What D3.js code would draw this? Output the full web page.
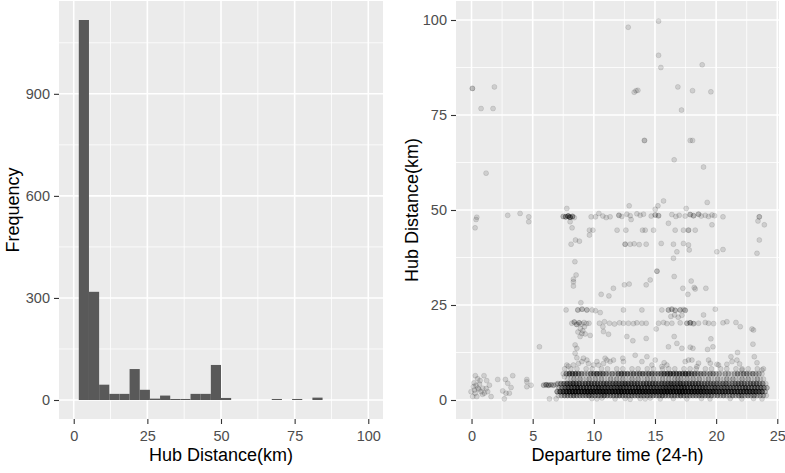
<!DOCTYPE html>
<html><head><meta charset="utf-8">
<script src="https://cdn.jsdelivr.net/npm/d3@7"></script>
<style>body{margin:0;background:#fff}svg text{font-family:Arial,"Liberation Sans",sans-serif}</style>
</head><body><svg id="c" width="785" height="473"></svg>
<script>
// ---------- Histogram data ----------
const histEdges = [1.724,5.172,8.621,12.069,15.517,18.966,22.414,25.862,29.310,32.759,36.207,39.655,43.103,46.552,50.000,53.448,56.897,60.345,63.793,67.241,70.690,74.138,77.586,81.034,84.483,87.931,91.379,94.828,98.276];
const histCounts = [1117,318,45,18,18,91,30,4,13,3,3,18,18,103,6,0,0,0,0,3,0,3,0,7,0,0,0,0];
const histXTicks = [0,25,50,75,100];
const histXMinor = [12.5,37.5,62.5,87.5];
const histYTicks = [0,300,600,900];
const histYMinor = [150,450,750,1050];

// ---------- Scatter data: [departure time, hub distance, overlapping count] ----------
const scatterPoints = [
[15.29,99.7],[12.81,98.1],[15.29,90.7],[15.48,87.5],[18.86,88.2],
[0.07,82.0,2],[1.87,82.4],[0.78,76.7],[1.76,76.7],
[13.3,81.0],[13.45,81.4],[13.6,81.5],[16.87,82.4],[18.07,81.4],[19.57,81.1],[17.17,76.3],
[14.14,68.3,2],[17.88,68.3],[18.07,68.3],[16.57,63.2],[18.97,61.3],[1.19,59.7],
[0.43,48.1],[0.37,47.5],[0.29,45.3],[2.96,48.6],[3.97,49.1],[4.68,48.2],[4.68,46.9],
[7.5,48.3,2],[7.7,48.2,3],[7.9,48.4,4],[8.05,48.1,4],[8.25,48.3,3],[8.4,48.0],
[7.79,50.4],[8.06,46.9],[8.22,45.3],
[9.78,48.2],[10.13,48.2],[10.41,49.1],[10.74,48.4],[11.01,48.0],[11.33,48.2],[12.05,48.6,2],
[9.64,44.7],[9.92,44.7],[9.64,43.4],[11.9,44.7],
[8.5,42.1],[8.82,41.8],[8.14,41.0],
[12.89,51.1],[15.7,52.4],[15.24,51.1],[15.02,50.2],[17.55,50.4],[19.27,52.0],
[12.29,48.3],[12.7,48.9],[12.97,48.5],[13.52,49.0],[13.79,48.6],[14.06,48.9],[14.69,48.4],[15.02,48.7,2],[15.29,48.5,2],[16.38,48.8],[16.71,48.3],[16.98,48.6],[17.47,48.4],[17.88,48.8,2],[18.15,48.5,2],[18.56,48.9,2],[18.78,48.4],[19.11,48.6],[19.38,48.3],[19.66,48.7],[19.87,48.5],[20.56,48.2],
[13.05,47.5],[19.66,46.1],[16.1,46.5],
[12.62,44.7],[13.98,44.7],[14.2,44.7],[14.88,44.7],[16.65,44.7],[17.33,44.7],[17.74,44.7,2],[18.29,44.7],
[12.56,41.0,2],[12.97,41.0],[13.3,41.1],[13.71,40.9],[14.28,41.0],[15.51,41.2],[16.51,41.0],[17.33,41.2],[17.74,40.8],
[16.79,39.0],[17.8,39.5],[16.51,37.3],[20.06,39.0],[20.56,39.6],
[23.53,48.2,2],[23.42,47.1],[23.94,46.1],[23.53,42.1],[23.34,38.6],
[8.45,36.4],[8.55,32.9],[8.33,31.8],[8.33,31.1],[8.33,30.0],[11.6,29.4],[10.6,27.8],[11.23,27.4],[8.94,25.6],
[15.16,33.9,2],[16.57,32.5],[14.61,31.6],[14.28,30.3],[12.5,30.3],[12.89,30.5],[17.96,31.3],[17.28,29.4],[18.21,29.6],[18.29,29.2],[17.69,27.8],[19.16,29.4],
[7.73,23.7],[8.69,23.7,2],[9.04,23.9,2],[9.43,23.7,2],[9.86,23.7],[10.13,23.5],[10.52,23.0],
[12.42,23.7],[13.93,23.7],[15.56,23.7],[16.1,23.7,2],[16.38,23.9,2],[16.65,23.6,2],[17.06,23.7,2],[17.33,23.8],[17.47,23.6,2],[19.93,23.9],
[18.97,22.4],[16.3,22.0],[16.6,22.4],[16.9,21.8],[17.2,22.3],
[8.2,20.2],[8.4,20.5,2],[8.6,19.9,2],[8.8,20.3,2],[9.0,20.0],[9.2,20.4],[9.4,20.1],[9.6,20.2],
[10.46,20.2],[10.87,20.6],[11.28,20.2],[11.69,20.0],[12.1,20.3],
[12.42,20.2],[12.83,20.2],[13.24,20.1],[13.52,20.3],[13.93,20.2],[14.28,20.2],[15.29,20.2],[15.7,20.4],[15.97,20.1],[16.38,20.2],[17.06,20.3],[17.61,20.2,2],[17.88,20.3,3],[18.15,20.1,2],[18.56,20.2],[19.11,20.4],[19.38,20.2],[19.79,20.1],[20.56,20.3],[20.88,20.6],[21.62,20.4],
[9.23,19.3],[10.74,19.3],[21.97,19.3],[22.93,18.7],[8.9,18.8],[9.1,18.2],[8.7,17.9],
[5.55,14.0],[8.47,14.5],[8.61,13.6],[8.88,16.7],[9.02,17.5],[9.29,17.4],[9.7,17.0],[8.47,12.3],[8.61,11.1],[9.02,10.1],[9.43,10.5],
[10.79,18.0],[11.2,17.3],[12.7,16.7],[13.19,15.6],[14.28,16.2],[15.1,18.7],[16.1,14.0],[16.57,16.7],[16.79,14.9],[17.2,13.6],[17.88,13.9],[18.1,13.6],
[17.74,10.5],[18.02,10.5],[19.3,13.3],[19.74,14.0],[19.57,16.1],[21.21,11.4],[21.75,12.5],[21.7,10.5],[21.92,9.5],
[23.06,18.4],[23.01,14.7],[23.34,9.8],[23.12,11.4],[13.38,11.8],[13.93,10.1],[14.34,11.4],[15.02,10.5],[15.75,9.8],[12.37,11.0],[12.42,10.1],
[7.79,9.2],[8.33,9.2],[10.25,10.1],[10.92,11.0],[11.6,10.5],[18.56,9.7],[19.38,10.5],[20.07,9.4],[20.88,9.4],[21.3,10.1],
[7.92,8.9],[8.74,9.6],[9.15,11.0],[9.56,9.6],[9.97,9.2],[10.38,9.2],[10.79,9.6],[11.07,10.5],[11.33,10.1],[14.75,9.2],[15.56,8.8],[15.97,9.2],
[18.43,8.8],[19.52,9.7],[20.2,9.2],[22.11,7.9],[23.75,7.9],[17.47,10.1],
[0.31,6.4],[1.02,6.4],[1.24,5.1],[0.70,5.1],[0.37,3.9],[0.23,2.6],[-0.04,2.2],[0.1,0.9],[0.43,0.9],[0.78,2.2],[1.05,1.8],[1.32,2.2],[1.6,0.9],[0.92,3.1],[0.52,3.1],[1.46,3.9],
[0.2,4.5],[0.5,5.6],[0.6,2.8],[0.9,1.5],[0.3,1.8],[1.2,3.0],[0.15,3.5],[0.65,4.2],
[2.14,5.4],[2.77,5.4],[2.96,4.4],[2.55,2.4],[2.82,1.8],[3.09,1.8],[2.68,0.3],[3.37,6.4],[3.23,3.3],
[4.52,5.4],[4.52,4.8],[4.87,3.9],[4.52,3.5],
[5.9,3.9,2],[6.1,4.0,3],[6.3,3.9,3],[6.5,4.0,2],[6.7,3.9,2],[6.9,4.1],
[6.37,0.3],[6.92,0.3],[7.6,6.1],
[9.84,0.4],[10.25,0.3],[10.66,0.5],[11.74,0.3],[12.56,0.4],[12.97,0.2],[13.79,0.4],[14.2,0.3],[14.61,0.5],[15.43,0.3],[16.5,0.4],[17.6,0.3],[18.8,0.4],[19.5,0.3],[21.15,0.4],[22.1,0.3],[23.06,0.4],[23.75,0.3]
];

// Dense band (0-9 km): counts of overlapping points read per cell
const bandT = [7,7.25,7.5,7.75,8,8.25,8.5,8.75,9,9.25,9.5,9.75,10,10.25,10.5,10.75,11,11.25,11.5,11.75,12,12.25,12.5,12.75,13,13.25,13.5,13.75,14,14.25,14.5,14.75,15,15.25,15.5,15.75,16,16.25,16.5,16.75,17,17.25,17.5,17.75,18,18.25,18.5,18.75,19,19.25,19.5,19.75,20,20.25,20.5,20.75,21,21.25,21.5,21.75,22,22.25,22.5,22.75,23,23.25,23.5,23.75,24];
const bandD = [8.2, 6.9, 5.5, 4.3, 3.2, 2.2, 1.2];
const bandShift = [0.12, 0, 0.12, 0.06, 0.15, 0, 0.1];
const bandCounts = [
"0010 1010 0101 0010 1001 0100 1010 0101 0010 1010 0101 0100 1010 0101 0010 1010 0101 0",
"0013 5554 3224 4544 3232 4544 3434 4344 3345 5655 5565 4433 3233 2212 2123 2332 3221 0",
"0001 1212 1121 2121 1212 1211 2121 1212 1121 2122 2121 2121 1211 2112 1211 2121 1211 0",
"2345 5655 4555 5545 5455 5565 5554 5555 5455 5655 6555 5554 4444 4344 3344 4434 4433 1",
"2345 5565 5555 5655 5555 6555 5565 5555 5556 5665 6655 5555 5445 4444 4444 4544 4443 2",
"3567 8888 7888 8888 8788 8988 8888 8888 8888 9888 9988 8888 7777 6666 6666 6666 6655 2",
"1233 3433 3343 3334 3333 4333 3333 3333 3343 3333 4333 3333 3332 3232 2323 3232 3222 1"
];
const scatXTicks = [0,5,10,15,20,25];
const scatXMinor = [2.5,7.5,12.5,17.5,22.5];
const scatYTicks = [0,25,50,75,100];
const scatYMinor = [12.5,37.5,62.5,87.5];

// ---------- Drawing ----------
const svg = d3.select('#c');
const TICK = '#333333', LAB = '#4D4D4D';

function drawPanel(x, y, xMaj, xMin, yMaj, yMin) {
  const [x0, x1] = x.range(), [yb, yt] = y.range();
  const g = svg.append('g');
  g.append('rect').attr('x', x0).attr('y', yt).attr('width', x1 - x0).attr('height', yb - yt).attr('fill', '#EBEBEB');
  const lines = (vals, w, vert) => g.selectAll(null).data(vals).enter().append('line')
    .attr('x1', d => vert ? x(d) : x0).attr('x2', d => vert ? x(d) : x1)
    .attr('y1', d => vert ? yt : y(d)).attr('y2', d => vert ? yb : y(d))
    .attr('stroke', '#fff').attr('stroke-width', w);
  lines(yMin, 0.8, false); lines(xMin, 0.8, true);
  lines(yMaj, 1.6, false); lines(xMaj, 1.6, true);
  return g;
}
function drawAxes(x, y, xMaj, yMaj) {
  const [x0] = x.range(), [yb] = y.range();
  const ax = svg.append('g').attr('transform', `translate(0,${yb})`)
    .call(d3.axisBottom(x).tickValues(xMaj).tickSize(5).tickPadding(7).tickFormat(d3.format('d')));
  const ay = svg.append('g').attr('transform', `translate(${x0},0)`)
    .call(d3.axisLeft(y).tickValues(yMaj).tickSize(5).tickPadding(4).tickFormat(d3.format('d')));
  [ax, ay].forEach(a => {
    a.select('.domain').remove();
    a.selectAll('line').attr('stroke', TICK).attr('stroke-width', 1.1);
    a.selectAll('text').attr('fill', LAB).style('font-size', '14.5px').style('font-family', 'Arial,"Liberation Sans",sans-serif');
  });
}
function title(txt, xx, yy, rot) {
  svg.append('text').attr('transform', `translate(${xx},${yy})` + (rot ? ' rotate(-90)' : ''))
    .attr('text-anchor', 'middle').attr('fill', '#000').style('font-size', '18px').text(txt);
}

// Left: histogram
const hx = d3.scaleLinear().domain([-5, 105]).range([59, 383]);
const hy = d3.scaleLinear().domain([-55.85, 1172.85]).range([419, 1]);
drawPanel(hx, hy, histXTicks, histXMinor, histYTicks, histYMinor);
const bins = histCounts.map((c, i) => ({x0: histEdges[i], x1: histEdges[i + 1], c}));
svg.append('g').selectAll('rect').data(bins.filter(b => b.c > 0)).enter().append('rect')
  .attr('x', b => hx(b.x0)).attr('width', b => hx(b.x1) - hx(b.x0))
  .attr('y', b => hy(b.c)).attr('height', b => hy(0) - hy(b.c)).attr('fill', '#595959');
drawAxes(hx, hy, histXTicks, histYTicks);
title('Hub Distance(km)', 221, 461, false);
title('Frequency', 19, 210, true);

// Right: scatter
const sx = d3.scaleLinear().domain([-1.27, 25.14]).range([456, 779]);
const sy = d3.scaleLinear().domain([-5, 105]).range([419, 1]);
drawPanel(sx, sy, scatXTicks, scatXMinor, scatYTicks, scatYMinor);
const pts = [];
scatterPoints.forEach(p => { const n = p[2] || 1; for (let k = 0; k < n; k++) pts.push([p[0], p[1]]); });
bandCounts.forEach((s, r) => {
  const cs = s.replace(/ /g, '');
  for (let i = 0; i < cs.length && i < bandT.length; i++) {
    const n = +cs[i];
    for (let k = 0; k < n; k++) pts.push([bandT[i] + bandShift[r], bandD[r]]);
  }
});
svg.append('g').selectAll('circle').data(pts).enter().append('circle')
  .attr('cx', p => sx(p[0])).attr('cy', p => sy(p[1])).attr('r', 2.5)
  .attr('fill', 'rgba(0,0,0,0.12)').attr('stroke', 'rgba(0,0,0,0.12)').attr('stroke-width', 0.8);
drawAxes(sx, sy, scatXTicks, scatYTicks);
title('Departure time (24-h)', 617.5, 461, false);
title('Hub Distance(km)', 418, 210, true);
</script></body></html>
